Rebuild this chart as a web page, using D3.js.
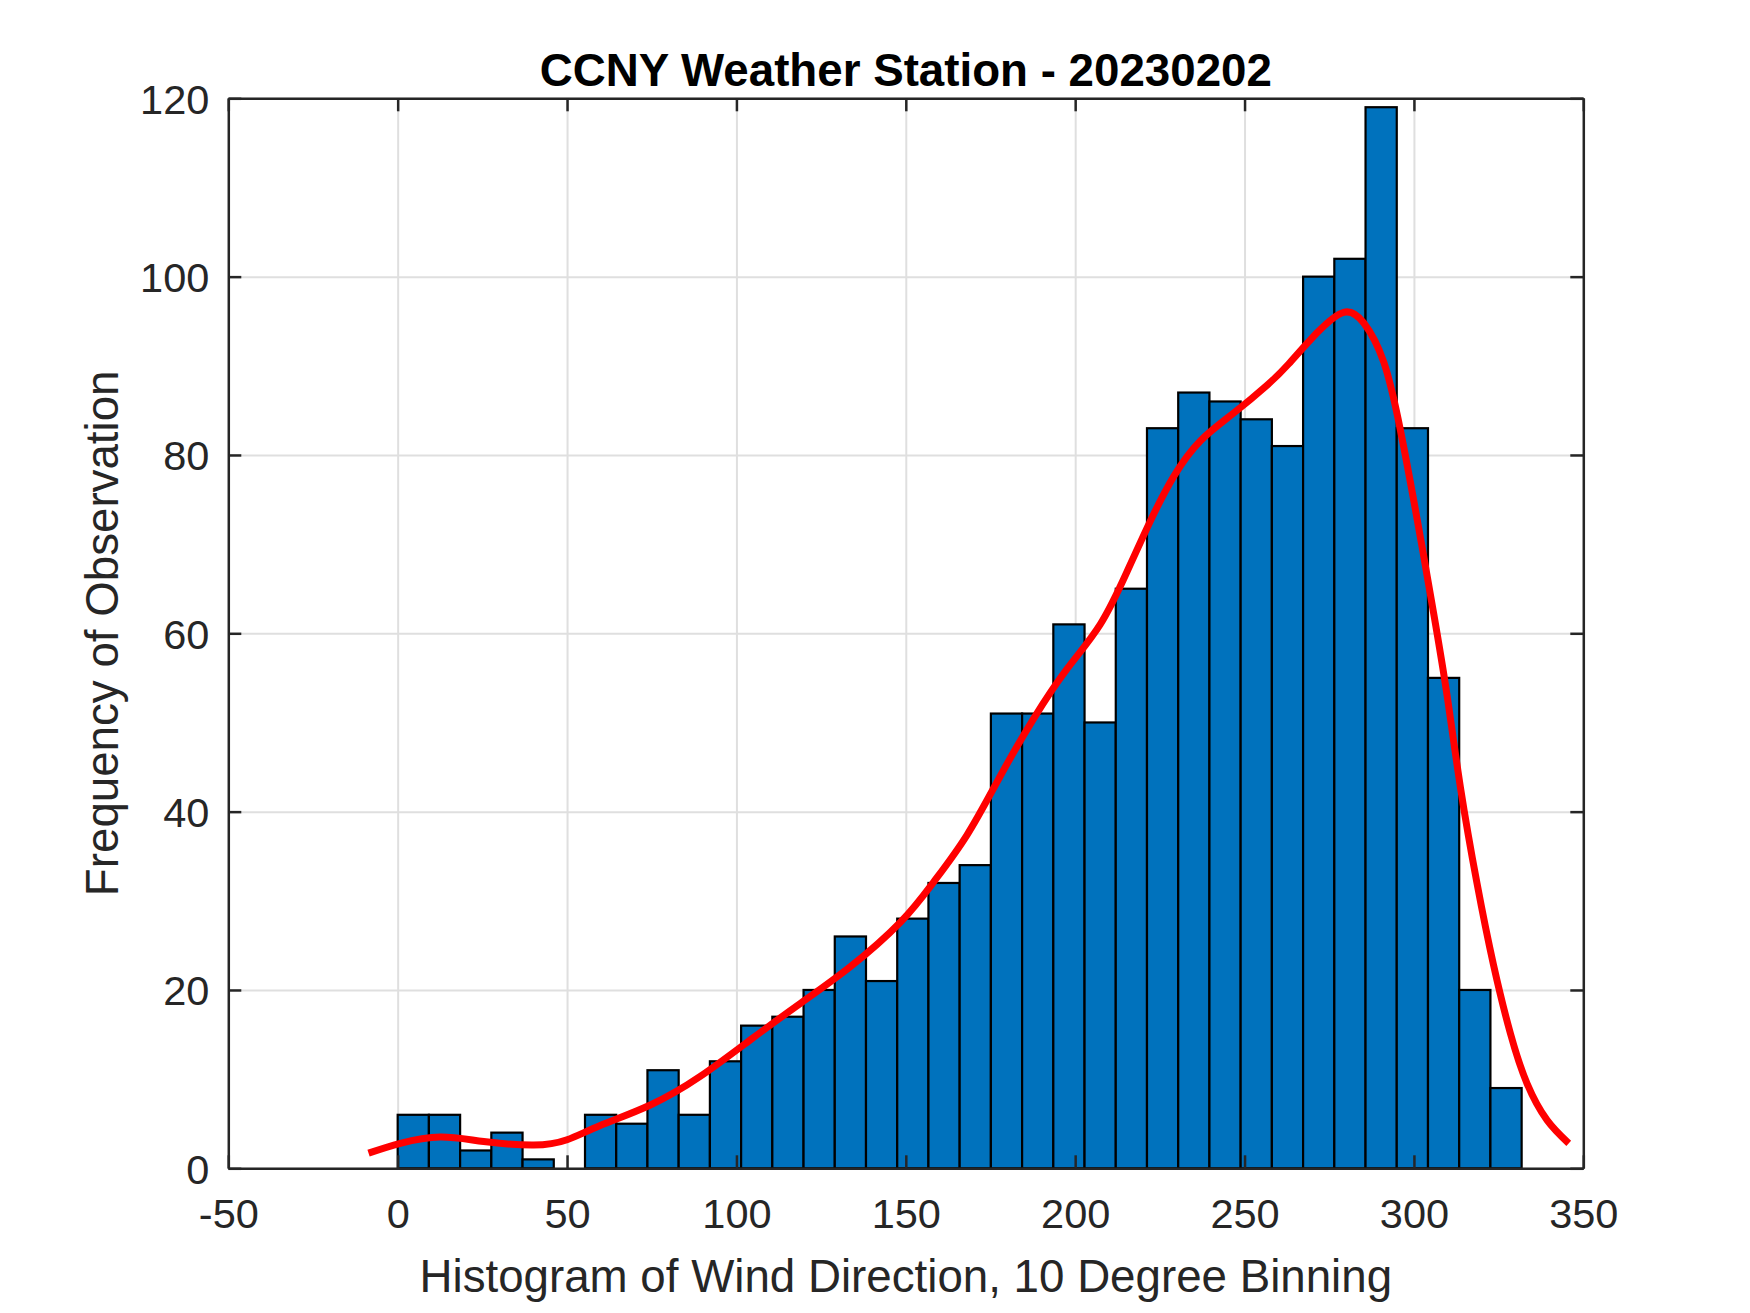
<!DOCTYPE html>
<html>
<head>
<meta charset="utf-8">
<script src="https://cdn.jsdelivr.net/npm/d3@7"></script>
<style>
  html, body { margin: 0; padding: 0; background: #ffffff; }
  svg { display: block; }
</style>
</head>
<body>
<svg id="chart" width="1750" height="1313"></svg>
<script>
// ---------------- data ----------------
const titleText = "CCNY Weather Station - 20230202";
const xLabelText = "Histogram of Wind Direction, 10 Degree Binning";
const yLabelText = "Frequency of Observation";

// histogram: 36 bins spanning the observed range of wind direction
const binStart = 0;
const binEnd = 331.8;
const binCounts = [6, 6, 2, 4, 1, 0, 6, 5, 11, 6, 12, 16, 17, 20, 26, 21, 28, 32,
                   34, 51, 51, 61, 50, 65, 83, 87, 86, 84, 81, 100, 102, 119, 83, 55, 20, 9];

// fitted density curve (scaled to counts)
const curveX = [-8.6, 0.8, 12.6, 25.4, 40.1, 50.0, 59.8, 74.6, 89.3, 104.1, 118.9, 133.6,
                148.4, 158.2, 168.1, 177.9, 187.7, 197.6, 207.4, 215.3, 222.2, 229.1, 237.0,
                246.8, 256.6, 263.0, 271.4, 279.3, 285.2, 291.1, 296.0, 300.9, 305.8, 309.8,
                313.7, 318.6, 323.5, 328.5, 333.4, 339.3, 345.7];
const curveY = [1.7, 2.8, 3.5, 3.0, 2.6, 3.2, 4.8, 7.1, 10.3, 14.4, 18.5, 22.6,
                27.6, 32.1, 37.4, 44.0, 50.4, 56.0, 61.0, 66.9, 72.6, 77.6, 81.6,
                84.7, 87.8, 90.2, 93.7, 96.0, 94.8, 90.4, 82.8, 72.9, 62.3, 53.0,
                42.8, 32.0, 22.8, 15.1, 9.5, 5.4, 2.8];

const xTicks = [-50, 0, 50, 100, 150, 200, 250, 300, 350];
const yTicks = [0, 20, 40, 60, 80, 100, 120];
const xDomain = [-50, 350];
const yDomain = [0, 120];

// ---------------- layout ----------------
const plot = { left: 228.3, right: 1583.3, top: 98.3, bottom: 1168.3 };
const fontFamily = "'Liberation Sans', Arial, Helvetica, sans-serif";
const tickFont = 41.5;
const labelFont = 45.7;
const axisColor = "#262626";
const gridColor = "#dfdfdf";
const tickLen = 13;

const svg = d3.select("#chart");
svg.append("rect").attr("width", 1750).attr("height", 1313).attr("fill", "#ffffff");

const x = d3.scaleLinear().domain(xDomain).range([plot.left, plot.right]);
const y = d3.scaleLinear().domain(yDomain).range([plot.bottom, plot.top]);
const W = plot.right - plot.left;
const H = plot.bottom - plot.top;
const fmt = d => String(d);

// ---------------- grid ----------------
const gridX = svg.append("g")
  .attr("transform", `translate(0,${plot.bottom})`)
  .call(d3.axisBottom(x).tickValues(xTicks).tickSizeInner(-H).tickSizeOuter(0).tickFormat(""));
const gridY = svg.append("g")
  .attr("transform", `translate(${plot.left},0)`)
  .call(d3.axisLeft(y).tickValues(yTicks).tickSizeInner(-W).tickSizeOuter(0).tickFormat(""));
[gridX, gridY].forEach(g => {
  g.select(".domain").remove();
  g.selectAll(".tick line").attr("stroke", gridColor).attr("stroke-width", 2);
});

// ---------------- bars ----------------
const binWidth = (binEnd - binStart) / binCounts.length;
const bins = binCounts.map((c, i) => ({ x0: binStart + i * binWidth, x1: binStart + (i + 1) * binWidth, count: c }));

svg.append("g")
  .selectAll("rect")
  .data(bins.filter(b => b.count > 0))
  .join("rect")
  .attr("x", d => x(d.x0))
  .attr("y", d => y(d.count))
  .attr("width", d => x(d.x1) - x(d.x0))
  .attr("height", d => y(0) - y(d.count))
  .attr("fill", "#0072BD")
  .attr("stroke", "#000000")
  .attr("stroke-width", 2.2);

// ---------------- curve ----------------
const curvePts = curveX.map((v, i) => [v, curveY[i]]);
svg.append("path")
  .datum(curvePts)
  .attr("fill", "none")
  .attr("stroke", "#ff0000")
  .attr("stroke-width", 7)
  .attr("stroke-linejoin", "round")
  .attr("d", d3.line().x(d => x(d[0])).y(d => y(d[1])).curve(d3.curveNatural));

// ---------------- axes ----------------
const axB = svg.append("g").attr("transform", `translate(0,${plot.bottom})`)
  .call(d3.axisBottom(x).tickValues(xTicks).tickSizeInner(-tickLen).tickSizeOuter(0).tickFormat(fmt));
const axT = svg.append("g").attr("transform", `translate(0,${plot.top})`)
  .call(d3.axisTop(x).tickValues(xTicks).tickSizeInner(-tickLen).tickSizeOuter(0).tickFormat(""));
const axL = svg.append("g").attr("transform", `translate(${plot.left},0)`)
  .call(d3.axisLeft(y).tickValues(yTicks).tickSizeInner(-tickLen).tickSizeOuter(0).tickFormat(fmt));
const axR = svg.append("g").attr("transform", `translate(${plot.right},0)`)
  .call(d3.axisRight(y).tickValues(yTicks).tickSizeInner(-tickLen).tickSizeOuter(0).tickFormat(""));

[axB, axT, axL, axR].forEach(g => {
  g.select(".domain").attr("stroke", axisColor).attr("stroke-width", 2.5);
  g.selectAll(".tick line").attr("stroke", axisColor).attr("stroke-width", 2.5);
  g.selectAll("text")
    .attr("fill", axisColor)
    .style("font-family", fontFamily)
    .style("font-size", tickFont + "px");
});
axB.selectAll(".tick text").attr("y", 60).attr("dy", "0");
axL.selectAll(".tick text").attr("x", -19).attr("dy", "0.358em").attr("text-anchor", "end");

// ---------------- labels ----------------
svg.append("text")
  .attr("x", (plot.left + plot.right) / 2)
  .attr("y", 86)
  .attr("text-anchor", "middle")
  .style("font-family", fontFamily)
  .style("font-size", labelFont + "px")
  .style("font-weight", "bold")
  .attr("fill", "#000000")
  .text(titleText);

svg.append("text")
  .attr("x", (plot.left + plot.right) / 2)
  .attr("y", 1292)
  .attr("text-anchor", "middle")
  .style("font-family", fontFamily)
  .style("font-size", labelFont + "px")
  .attr("fill", axisColor)
  .text(xLabelText);

svg.append("text")
  .attr("transform", `translate(118,${(plot.top + plot.bottom) / 2}) rotate(-90)`)
  .attr("text-anchor", "middle")
  .style("font-family", fontFamily)
  .style("font-size", labelFont + "px")
  .attr("fill", axisColor)
  .text(yLabelText);
</script>
</body>
</html>
